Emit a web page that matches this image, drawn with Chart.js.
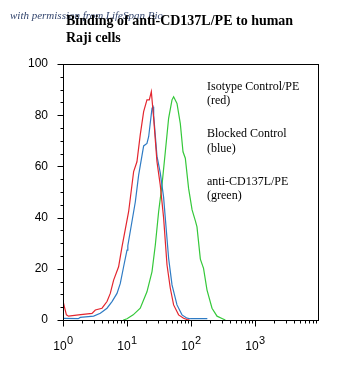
<!DOCTYPE html>
<html>
<head>
<meta charset="utf-8">
<script src="https://cdn.jsdelivr.net/npm/chart.js@4"></script>
<style>
html,body{margin:0;padding:0;background:#fff;}
canvas{display:block;}
</style>
</head>
<body>
<canvas id="c" width="343" height="365"></canvas>
<script>
// ---- data (fluorescence intensity vs. % of max) ----
const redX = [1.00, 1.05, 1.13, 1.22, 1.75, 2.84, 3.20, 4.07, 4.87, 5.48, 6.18, 7.39, 8.35, 10.6, 12.7, 14.3, 16.1, 18.2, 20.5, 22.3, 24.0, 26.1, 29.4, 33.1, 37.3, 42.2, 47.5, 53.5, 64.0, 76.6, 86.6, 95.0];
const redY = [7.5, 5.2, 2.0, 1.5, 2.0, 2.6, 3.9, 4.6, 7.2, 10.4, 15.6, 20.8, 28.6, 42.3, 58.0, 61.8, 72.3, 81.4, 86.0, 86.0, 89.2, 78.8, 61.8, 52.7, 40.0, 21.5, 12.4, 5.9, 2.0, 0.7, 0.2, 0.0];
const blueX = [1.00, 1.73, 1.86, 3.01, 3.83, 4.87, 5.83, 6.98, 7.86, 8.85, 10.0, 10.3, 13.5, 15.2, 18.2, 20.5, 21.8, 24.6, 25.5, 26.1, 29.4, 33.1, 37.3, 39.7, 44.7, 50.5, 60.4, 72.3, 86.6, 97.5, 180];
const blueY = [0.6, 0.5, 1.0, 1.5, 2.6, 4.6, 7.2, 10.4, 14.3, 20.8, 27.3, 29.0, 46.2, 56.6, 68.0, 69.0, 71.6, 82.7, 83.3, 80.0, 64.0, 57.5, 48.0, 39.7, 24.1, 13.7, 5.9, 2.0, 0.7, 0.5, 0.5];
const greenX = [8.75, 10.0, 12.5, 16.1, 20.5, 24.6, 27.7, 31.2, 35.2, 39.7, 44.7, 50.5, 53.5, 60.4, 68.1, 75.0, 81.5, 91.7, 104, 117, 124, 140, 157, 178, 213, 255, 305, 344];
const greenY = [0.0, 0.5, 2.0, 4.6, 11.0, 18.9, 29.3, 42.3, 52.7, 65.7, 78.8, 86.0, 87.2, 84.6, 76.7, 65.7, 63.2, 51.4, 43.0, 38.7, 36.4, 23.8, 20.2, 11.7, 4.6, 1.5, 0.6, 0.0];

const yTicks = [0, 20, 40, 60, 80, 100];
const xDecades = [0, 1, 2, 3];
const titleLines = ["Binding of anti-CD137L/PE to human", "Raji cells"];
const legendLines = [
  ["Isotype Control/PE", "(red)"],
  ["Blocked Control", "(blue)"],
  ["anti-CD137L/PE", "(green)"]
];
const watermark = "with permission from LifeSpan Bio";

function pts(xs, ys) { return xs.map((x, i) => ({ x: x, y: ys[i] })); }

const decor = {
  id: 'decor',
  afterDraw(chart) {
    const ctx = chart.ctx;
    const a = chart.chartArea;
    const xs = chart.scales.x, ys = chart.scales.y;
    ctx.save();
    // watermark
    ctx.fillStyle = '#34466e';
    ctx.font = 'italic 11px "Liberation Serif"';
    ctx.textBaseline = 'alphabetic';
    ctx.textAlign = 'left';
    ctx.fillText(watermark, 10, 19);
    // title
    ctx.fillStyle = '#000';
    ctx.font = 'bold 14px "Liberation Serif"';
    ctx.fillText(titleLines[0], 66, 25);
    ctx.fillText(titleLines[1], 66, 41.7);
    // plot box
    ctx.strokeStyle = '#000';
    ctx.lineWidth = 1;
    ctx.strokeRect(Math.round(a.left) + 0.5, Math.round(a.top) + 0.5, Math.round(a.right - a.left) - 1, Math.round(a.bottom - a.top));
    // y ticks
    ctx.beginPath();
    for (let v = 0; v <= 100; v += 5) {
      const py = Math.round(ys.getPixelForValue(v)) + 0.5;
      const len = (v % 20 === 0) ? 6 : 3;
      ctx.moveTo(Math.round(a.left) + 0.5, py);
      ctx.lineTo(Math.round(a.left) + 0.5 - len, py);
    }
    // x ticks
    const bottom = Math.round(a.bottom) + 0.5;
    xDecades.forEach(d => {
      for (let k = 1; k <= 9; k++) {
        const px = Math.round(xs.getPixelForValue(k * Math.pow(10, d))) + 0.5;
        const len = k === 1 ? 6 : 3;
        ctx.moveTo(px, bottom);
        ctx.lineTo(px, bottom + len);
      }
    });
    ctx.stroke();
    // x labels 10^n
    xDecades.forEach(d => {
      const px = xs.getPixelForValue(Math.pow(10, d));
      ctx.font = '12px "Liberation Sans"';
      const wb = ctx.measureText('10').width;
      ctx.font = '11px "Liberation Sans"';
      const we = ctx.measureText(String(d)).width;
      const x0 = px - (wb + we) / 2;
      ctx.font = '12px "Liberation Sans"';
      ctx.fillText('10', x0, 350);
      ctx.font = '11px "Liberation Sans"';
      ctx.fillText(String(d), x0 + wb + 0.5, 343.5);
    });
    // legend text
    ctx.font = '12px "Liberation Serif"';
    const lx = 207;
    const base = [[90, 104.3], [137.3, 151.7], [185, 199.3]];
    legendLines.forEach((ln, i) => {
      ctx.fillText(ln[0], lx, base[i][0]);
      ctx.fillText(ln[1], lx, base[i][1]);
    });
    ctx.restore();
  }
};

new Chart(document.getElementById('c'), {
  type: 'line',
  data: {
    datasets: [
      { label: 'Isotype Control/PE', data: pts(redX, redY), borderColor: '#e3262f', borderWidth: 1.2 },
      { label: 'Blocked Control', data: pts(blueX, blueY), borderColor: '#2f7bc4', borderWidth: 1.2 },
      { label: 'anti-CD137L/PE', data: pts(greenX, greenY), borderColor: '#35c83a', borderWidth: 1.2 }
    ]
  },
  options: {
    responsive: false,
    animation: false,
    devicePixelRatio: 1,
    layout: { padding: { left: 0, top: 64, right: 24, bottom: 0 } },
    elements: { point: { radius: 0 }, line: { tension: 0, fill: false } },
    plugins: { legend: { display: false }, title: { display: false }, tooltip: { enabled: false } },
    scales: {
      x: {
        type: 'logarithmic', min: 1, max: 10000,
        ticks: { display: false },
        grid: { display: false },
        border: { display: false },
        afterFit(s) { s.height = 45; }
      },
      y: {
        type: 'linear', min: 0, max: 100,
        afterBuildTicks(s) { s.ticks = yTicks.map(v => ({ value: v })); },
        ticks: { color: '#000', padding: 9, font: { family: '"Liberation Sans"', size: 12 } },
        grid: { display: true, drawOnChartArea: false, drawTicks: true, tickLength: 6, color: 'rgba(0,0,0,0)' },
        border: { display: false },
        afterFit(s) { s.width = 63; }
      }
    }
  },
  plugins: [decor]
});
</script>
</body>
</html>
